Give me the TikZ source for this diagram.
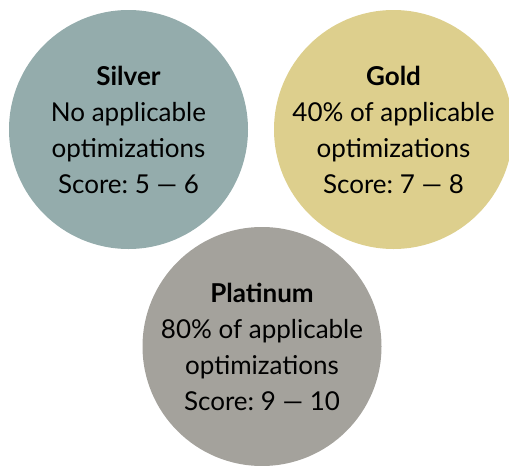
\documentclass[tikz,border=0pt]{standalone}
\usepackage{fontspec}
\setmainfont{Lato}
\frenchspacing

\definecolor{silverc}{HTML}{94ACAC}
\definecolor{goldc}{HTML}{DDCF8D}
\definecolor{platc}{HTML}{A4A29C}

\tikzset{
  medal/.style={circle,minimum size=239pt,inner sep=0pt,align=center,
    font=\fontsize{26}{36}\selectfont},
}

\begin{document}
\begin{tikzpicture}[x=1pt,y=-1pt]
\useasboundingbox (0,0) rectangle (509,466);

\node[medal,fill=silverc] (silver) at (128.5,129.5)
  {\textbf{Silver}\\No applicable\\optimizations\\Score: 5 --- 6};
\node[medal,fill=goldc] (gold) at (393.5,129.5)
  {\textbf{Gold}\\40\% of applicable\\optimizations\\Score: 7 --- 8};
\node[medal,fill=platc] (platinum) at (262,346.5)
  {\textbf{Platinum}\\80\% of applicable\\optimizations\\Score: 9 --- 10};

\end{tikzpicture}
\end{document}
